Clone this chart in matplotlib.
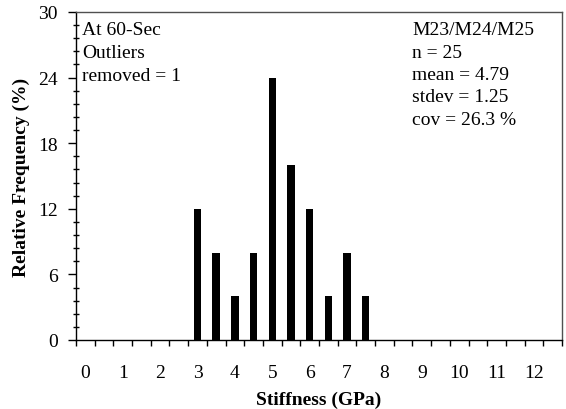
import numpy as np
import matplotlib
matplotlib.use("Agg")
import matplotlib.pyplot as plt
from matplotlib.ticker import MultipleLocator, FixedLocator

plt.rcParams['font.family'] = ['Liberation Serif', 'DejaVu Serif']

# stiffness bins (GPa), one per column, and relative frequency (%)
bins = [0, 0.5, 1, 1.5, 2, 2.5, 3, 3.5, 4, 4.5, 5, 5.5, 6, 6.5,
        7, 7.5, 8, 8.5, 9, 9.5, 10, 10.5, 11, 11.5, 12, 12.5]
freq = [0, 0, 0, 0, 0, 0, 12, 8, 4, 8, 24, 16, 12, 4,
        8, 4, 0, 0, 0, 0, 0, 0, 0, 0, 0, 0]
tick_labels = ['0', '1', '2', '3', '4', '5', '6', '7', '8', '9', '10', '11', '12']

left_lines = ["At 60-Sec", "Outliers", "removed = 1"]
right_lines = ["M23/M24/M25", "n = 25", "mean = 4.79", "stdev = 1.25", "cov = 26.3 %"]

W, H = 566, 410
fig = plt.figure(figsize=(W / 100, H / 100), dpi=100)
ax = fig.add_axes([76 / W, 69 / H, 486 / W, 328 / H])

pos = np.arange(len(bins))
ax.bar(pos, freq, width=0.4, color='black')

ax.set_xlim(-0.5, len(bins) - 0.5)
ax.set_ylim(0, 30)

# category boundaries carry the tick marks, labels sit at integer bins
ax.xaxis.set_major_locator(FixedLocator(np.arange(len(bins) + 1) - 0.5))
ax.xaxis.set_major_formatter(plt.NullFormatter())
lab_pos = [p for p, b in zip(pos, bins) if b == int(b)]
ax.xaxis.set_minor_locator(FixedLocator(lab_pos))
ax.set_xticklabels(tick_labels, minor=True)
ax.tick_params(axis='x', which='major', direction='out', length=4, width=1)
ax.tick_params(axis='x', which='minor', length=0, pad=17, labelsize=14)

ax.yaxis.set_major_locator(MultipleLocator(6))
ax.yaxis.set_minor_locator(MultipleLocator(1.2))
ax.tick_params(axis='y', which='major', direction='out', length=6, width=1, labelsize=14, pad=7)
ax.tick_params(axis='y', which='minor', direction='inout', length=5, width=1)

for s in ax.spines.values():
    s.set_linewidth(1)
ax.spines['top'].set_color('#505050')
ax.spines['right'].set_color('#505050')

ax.set_xlabel('Stiffness (GPa)', fontsize=14, fontweight='bold', labelpad=7)
ax.set_ylabel('Relative Frequency (%)', fontsize=14, fontweight='bold', labelpad=6)

# annotation blocks, one line at a time (baselines in pixels from top)
for i, line in enumerate(left_lines):
    fig.text(82 / W, 1 - (35 + 23 * i) / H, line, fontsize=14, va='baseline', ha='left')
for i, line in enumerate(right_lines):
    fig.text(412 / W, 1 - (35 + 22.5 * i) / H, line, fontsize=14, va='baseline', ha='left')

fig.savefig('out.png', dpi=100)
